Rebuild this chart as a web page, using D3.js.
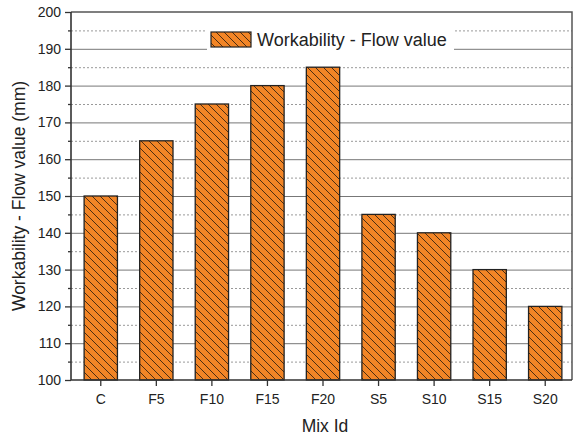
<!DOCTYPE html>
<html>
<head>
<meta charset="utf-8">
<script src="https://cdn.jsdelivr.net/npm/d3@7"></script>
<style>
  body { margin: 0; background: #fff; }
  svg { font-family: "Liberation Sans", Arial, sans-serif; }
  .tick text { fill: #222; }
</style>
</head>
<body>
<div id="chart"></div>
<script>
const mixIds = ["C", "F5", "F10", "F15", "F20", "S5", "S10", "S15", "S20"]
const flowValues = [150, 165, 175, 180, 185, 145, 140, 130, 120]
const majorTicks = [100, 110, 120, 130, 140, 150, 160, 170, 180, 190, 200]
const minorTicks = [105, 115, 125, 135, 145, 155, 165, 175, 185, 195]
const seriesName = "Workability - Flow value"

const dims = {
  width: 575,
  height: 439,
  left: 71,
  right: 572,
  top: 12,
  bottom: 380,
}

const svg = d3.select("#chart").append("svg")
  .attr("width", dims.width)
  .attr("height", dims.height)

// hatch pattern for bars
const defs = svg.append("defs")
const pat = defs.append("pattern")
  .attr("id", "hatch")
  .attr("patternUnits", "userSpaceOnUse")
  .attr("width", 8)
  .attr("height", 8)
pat.append("rect")
  .attr("width", 8)
  .attr("height", 8)
  .attr("fill", "#f28526")
pat.append("path")
  .attr("d", "M-2,-2L10,10M-2,6L2,10M6,-2L10,2")
  .attr("stroke", "#3a2410")
  .attr("stroke-width", 0.9)

const x = d3.scaleBand()
  .domain(mixIds)
  .range([73, 573])
  .paddingInner(0.4)
  .paddingOuter(0.2)

const y = d3.scaleLinear()
  .domain([100, 200])
  .range([dims.bottom, dims.top])

// grid
svg.append("g").selectAll("line")
  .data(majorTicks.slice(1, -1))
  .join("line")
  .attr("x1", dims.left).attr("x2", dims.right)
  .attr("y1", d => y(d) + 0.5).attr("y2", d => y(d) + 0.5)
  .attr("stroke", "#777")
  .attr("stroke-width", 1)

svg.append("g").selectAll("line")
  .data(minorTicks)
  .join("line")
  .attr("x1", dims.left).attr("x2", dims.right)
  .attr("y1", d => y(d) + 0.5).attr("y2", d => y(d) + 0.5)
  .attr("stroke", "#999")
  .attr("stroke-width", 1)
  .attr("stroke-dasharray", "2,2")

// legend background (covers grid)
svg.append("rect")
  .attr("x", 207).attr("y", 26)
  .attr("width", 247).attr("height", 26)
  .attr("fill", "#fff")

// bars
svg.append("g").selectAll("rect")
  .data(flowValues)
  .join("rect")
  .attr("x", (d, i) => x(mixIds[i]))
  .attr("width", x.bandwidth())
  .attr("y", d => y(d))
  .attr("height", d => y(100) - y(d))
  .attr("fill", "url(#hatch)")
  .attr("stroke", "#222")
  .attr("stroke-width", 1.3)

// frame
svg.append("path")
  .attr("d", `M${dims.left},${dims.top}H${dims.right}V${dims.bottom}`)
  .attr("fill", "none")
  .attr("stroke", "#555")
  .attr("stroke-width", 1.5)

// y axis
const yAxis = svg.append("g")
  .attr("transform", `translate(${dims.left},0)`)
  .call(d3.axisLeft(y).tickValues(majorTicks).tickSize(6).tickSizeOuter(0).tickPadding(4))
yAxis.select(".domain").remove()
yAxis.selectAll(".tick line").attr("stroke", "#333").attr("stroke-width", 1.3)
yAxis.selectAll(".tick text").attr("font-size", "14px")
svg.append("g")
  .attr("transform", `translate(${dims.left},0)`)
  .call(d3.axisLeft(y).tickValues(minorTicks).tickSize(3).tickFormat(""))
  .call(g => g.select(".domain").remove())
  .selectAll(".tick line").attr("stroke", "#333").attr("stroke-width", 1.3)

// x axis
const xAxis = svg.append("g")
  .attr("transform", `translate(0,${dims.bottom})`)
  .call(d3.axisBottom(x).tickSize(6).tickSizeOuter(0).tickPadding(8))
xAxis.select(".domain").remove()
xAxis.selectAll(".tick line").attr("stroke", "#333").attr("stroke-width", 1.3)
xAxis.selectAll(".tick text").attr("font-size", "14px")

// axis lines
svg.append("path")
  .attr("d", `M${dims.left},${dims.top}V${dims.bottom}H${dims.right}`)
  .attr("fill", "none")
  .attr("stroke", "#333")
  .attr("stroke-width", 1.6)

// legend
svg.append("rect")
  .attr("x", 211).attr("y", 32)
  .attr("width", 40).attr("height", 15)
  .attr("fill", "url(#hatch)")
  .attr("stroke", "#222")
  .attr("stroke-width", 1.2)
svg.append("text")
  .attr("x", 257).attr("y", 46)
  .attr("font-size", "18px")
  .attr("fill", "#222")
  .text(seriesName)

// axis titles
svg.append("text")
  .attr("x", 325).attr("y", 432)
  .attr("text-anchor", "middle")
  .attr("font-size", "17.5px")
  .attr("fill", "#222")
  .text("Mix Id")
svg.append("text")
  .attr("transform", "translate(25,196) rotate(-90)")
  .attr("text-anchor", "middle")
  .attr("font-size", "17.5px")
  .attr("fill", "#222")
  .text("Workability - Flow value (mm)")
</script>
</body>
</html>
